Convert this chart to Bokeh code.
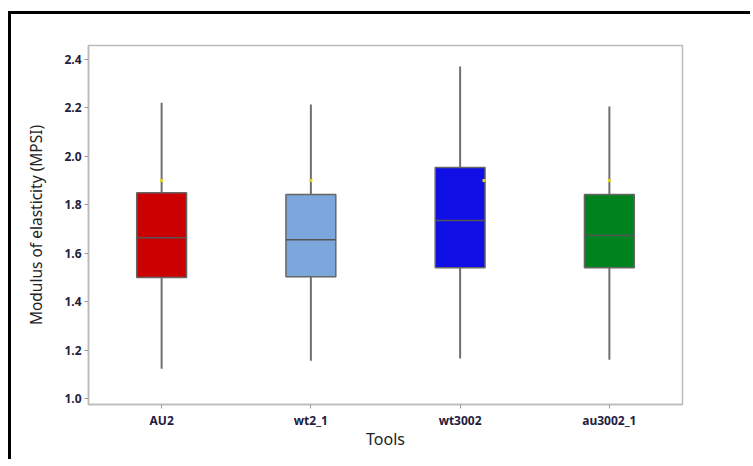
from bokeh.plotting import figure
from bokeh.models import FixedTicker, ColumnDataSource
from bokeh.embed import file_html
from bokeh.resources import INLINE

# ---- data ----
tools = ["AU2", "wt2_1", "wt3002", "au3002_1"]
q1 = [1.500, 1.503, 1.540, 1.540]
median = [1.664, 1.656, 1.735, 1.673]
q3 = [1.850, 1.842, 1.954, 1.842]
whisker_low = [1.123, 1.156, 1.165, 1.160]
whisker_high = [2.222, 2.214, 2.371, 2.206]
box_colors = ["#CC0000", "#7BA7DC", "#1010E6", "#00821E"]
# small yellow reference marks (position on category axis, value)
mark_pos = [0.5, 1.0, 2.0, 3.16, 4.0]
mark_val = [1.9, 1.9, 1.9, 1.9, 1.9]
y_ticks = [1.0, 1.2, 1.4, 1.6, 1.8, 2.0, 2.2, 2.4]

pos = [i + 1 for i in range(len(tools))]
box_w = 0.334
src = ColumnDataSource(dict(
    pos=pos, q1=q1, med=median, q3=q3, lo=whisker_low, hi=whisker_high,
    color=box_colors,
    left=[p_ - box_w / 2 for p_ in pos], right=[p_ + box_w / 2 for p_ in pos],
))

p = figure(width=742, height=448, output_backend="svg", toolbar_location=None,
           x_range=(0.51, 4.49), y_range=(0.975, 2.458),
           min_border_left=77, min_border_right=71, min_border_top=31,
           min_border_bottom=58)
p.styles = {"border-left": "3px solid black", "border-top": "3px solid black",
            "margin-left": "8px", "margin-top": "11px"}

p.xgrid.visible = False
p.ygrid.visible = False
p.outline_line_color = "#BBBBBB"
p.outline_line_width = 1.5

# whiskers
p.segment(x0="pos", y0="q3", x1="pos", y1="hi", source=src, line_color="#707070", line_width=2)
p.segment(x0="pos", y0="lo", x1="pos", y1="q1", source=src, line_color="#707070", line_width=2)
# boxes
p.vbar(x="pos", width=box_w, bottom="q1", top="q3", source=src, fill_color="color",
       line_color="#666666", line_width=1.5)
# medians
p.segment(x0="left", y0="med", x1="right", y1="med", source=src, line_color="#555555", line_width=1.5)
# yellow marks
p.scatter(mark_pos, mark_val, size=3, marker="square", color="#E0D020", line_color=None)

p.xaxis.ticker = FixedTicker(ticks=pos)
p.xaxis.major_label_overrides = {pp: t for pp, t in zip(pos, tools)}
p.yaxis.ticker = FixedTicker(ticks=y_ticks)
p.yaxis.major_label_overrides = {v: f"{v:.1f}" for v in y_ticks}

for ax in (p.xaxis[0], p.yaxis[0]):
    ax.axis_line_color = "#BBBBBB"
    ax.axis_line_width = 1.5
    ax.major_tick_line_color = "#999999"
    ax.major_tick_in = 0
    ax.major_tick_out = 4
    ax.minor_tick_line_color = None
    ax.major_label_text_font = "Noto Sans"
    ax.major_label_text_font_size = "12px"
    ax.major_label_text_font_style = "bold"
    ax.major_label_text_color = "#1E2040"
    ax.axis_label_text_font = "Noto Sans"
    ax.axis_label_text_font_style = "normal"
    ax.axis_label_text_color = "#222222"

p.xaxis.axis_label = "Tools"
p.yaxis.axis_label = "Modulus of elasticity (MPSI)"
p.xaxis.axis_label_text_font_size = "16px"
p.yaxis.axis_label_text_font_size = "15.5px"
p.xaxis.major_label_standoff = 3
p.xaxis.axis_label_standoff = -4
p.yaxis.major_label_standoff = 3
p.yaxis.axis_label_standoff = 14

open("out.html", "w").write(file_html(p, INLINE))
